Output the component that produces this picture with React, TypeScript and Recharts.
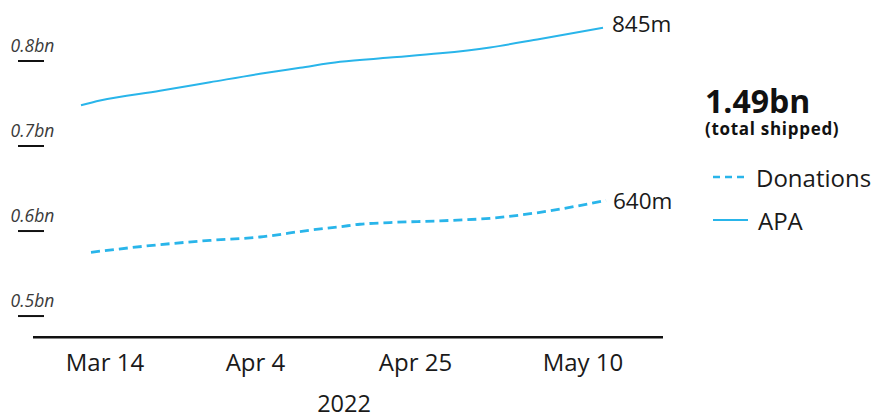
import React from "react";
import { LineChart, Line, XAxis, YAxis } from "recharts";

// ---- data (x = position along the axis, y = billions shipped) ----
const apaX = [4.8, 6.7, 12.7, 17.7, 22.7, 26.7, 30.7, 35.7, 40.7, 45.7, 50.7, 57.0];
const apaValues = [0.748, 0.7535, 0.765, 0.775, 0.785, 0.792, 0.799, 0.804, 0.809, 0.816, 0.826, 0.839];

const donationsX = [5.8, 12.7, 17.7, 22.7, 27.7, 30.7, 32.7, 35.7, 40.7, 45.7, 50.7, 57.3];
const donationsValues = [0.575, 0.584, 0.589, 0.593, 0.601, 0.605, 0.608, 0.61, 0.612, 0.615, 0.622, 0.636];

const xTickPositions = [7.2, 22.25, 38.25, 55.0];
const xTickLabels = ["Mar 14", "Apr 4", "Apr 25", "May 10"];
const xAxisTitle = "2022";

const yTicks = [0.5, 0.6, 0.7, 0.8];
const yTickLabels = ["0.5bn", "0.6bn", "0.7bn", "0.8bn"];

const seriesNames = ["Donations", "APA"];
const endLabels = ["640m", "845m"];
const totalLabel = "1.49bn";
const totalSub = "(total shipped)";

const apaData = apaX.map((t, i) => ({ t, v: apaValues[i] }));
const donationsData = donationsX.map((t, i) => ({ t, v: donationsValues[i] }));

const BLUE = "#29b5ea";
const FONT = "'Open Sans', sans-serif";

const XTick = (props: any) => {
  const { x, y, payload } = props;
  const idx = xTickPositions.indexOf(payload.value);
  return (
    <text x={x} y={y + 25.5} textAnchor="middle" fontSize={24} fill="#1a1a1a" fontFamily={FONT}>
      {xTickLabels[idx]}
    </text>
  );
};

const YTick = (props: any) => {
  const { y, payload } = props;
  const idx = yTicks.indexOf(payload.value);
  return (
    <g>
      <text x={10.5} y={y - 9} fontSize={17.5} fontStyle="italic" fill="#3a3a3a" fontFamily={FONT}>
        {yTickLabels[idx]}
      </text>
      <line x1={18} x2={44} y1={y} y2={y} stroke="#111" strokeWidth={2} />
    </g>
  );
};

const makeEndLabel = (lastIndex: number, text: string, dy: number, dx: number) => (p: any) => {
  if (p.index !== lastIndex) return <g />;
  return (
    <text
      x={p.x + dx}
      y={p.y + dy}
      dominantBaseline="central"
      fontSize={22.5}
      fill="#1a1a1a"
      fontFamily={FONT}
    >
      {text}
    </text>
  );
};

export default function App() {
  return (
    <div
      style={{
        position: "absolute",
        left: 0,
        top: 0,
        width: 875,
        height: 415,
        overflow: "hidden",
        background: "#fff",
        fontFamily: FONT,
      }}
    >
      <LineChart
        width={875}
        height={415}
        margin={{ top: 18.5, right: 212, bottom: 0, left: 0 }}
      >
        <XAxis
          type="number"
          dataKey="t"
          domain={[0, 63]}
          ticks={xTickPositions}
          interval={0}
          tickLine={false}
          axisLine={{ stroke: "#111", strokeWidth: 2.5 }}
          tick={<XTick />}
          height={77.7}
          label={{
            value: xAxisTitle,
            position: "insideBottom",
            offset: 3,
            fontSize: 23.5,
            fill: "#1a1a1a",
            fontFamily: FONT,
            dx: -4,
          }}
        />
        <YAxis
          type="number"
          domain={[0.475, 0.85]}
          ticks={yTicks}
          interval={0}
          width={33}
          axisLine={false}
          tickLine={false}
          tick={<YTick />}
        />
        <Line
          data={donationsData}
          dataKey="v"
          type="monotone"
          stroke={BLUE}
          strokeWidth={2.8}
          strokeDasharray="9 5"
          dot={false}
          isAnimationActive={false}
          label={makeEndLabel(donationsData.length - 1, endLabels[0], 0, 7)}
        />
        <Line
          data={apaData}
          dataKey="v"
          type="monotone"
          stroke={BLUE}
          strokeWidth={2}
          dot={false}
          isAnimationActive={false}
          label={makeEndLabel(apaData.length - 1, endLabels[1], -4.6, 9)}
        />
      </LineChart>
      <svg
        width={875}
        height={415}
        style={{ position: "absolute", left: 0, top: 0, pointerEvents: "none" }}
      >
        <text x={705} y={113} fontSize={32} fontWeight={700} fill="#111" fontFamily={FONT}>
          {totalLabel}
        </text>
        <text
          x={705}
          y={135}
          fontSize={17}
          fontWeight={700}
          letterSpacing={0.7}
          fill="#111"
          fontFamily={FONT}
        >
          {totalSub}
        </text>
        <line x1={713} x2={748} y1={177} y2={177} stroke={BLUE} strokeWidth={2.5} strokeDasharray="7 5" />
        <text x={756} y={186.5} fontSize={24} fill="#1a1a1a" fontFamily={FONT}>
          {seriesNames[0]}
        </text>
        <line x1={713} x2={748} y1={220} y2={220} stroke={BLUE} strokeWidth={2} />
        <text x={758} y={230} fontSize={24} fill="#1a1a1a" fontFamily={FONT}>
          {seriesNames[1]}
        </text>
      </svg>
    </div>
  );
}
